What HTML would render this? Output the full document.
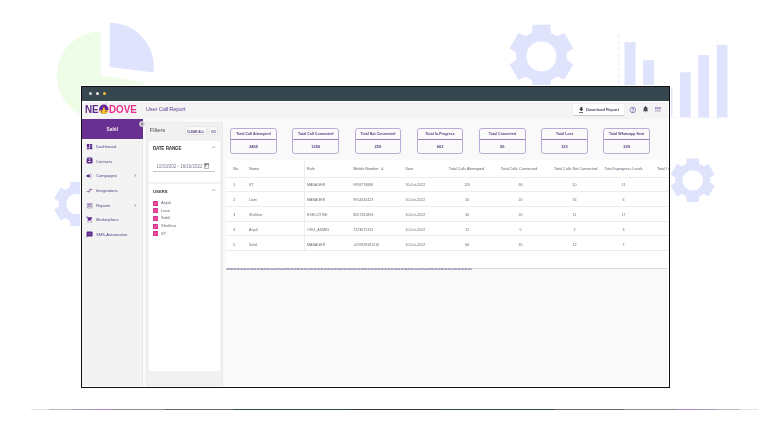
<!DOCTYPE html>
<html><head><meta charset="utf-8">
<style>
*{margin:0;padding:0;box-sizing:border-box}
html,body{width:758px;height:448px;overflow:hidden;background:#fff;font-family:"Liberation Sans",Arial,sans-serif}
.a{position:absolute}
.t{position:absolute;white-space:nowrap;line-height:1}
#bg{position:absolute;left:0;top:0}
#c{position:absolute;left:0;top:0;width:758px;height:448px;clip-path:inset(87px 89px 61px 82px);will-change:transform}
#win{position:absolute;left:81px;top:86px;width:589px;height:302px;border:1px solid #111;box-shadow:0 0 0 1px #fff}
.dot{width:3.2px;height:3.2px;border-radius:50%}
.logo{font-size:10.6px;font-weight:bold;transform:scaleX(0.93);transform-origin:0 0}
.mi{font-size:4.15px;color:#5c4585}
.cb{width:4.9px;height:4.9px;background:#e9308b;border-radius:0.5px;box-shadow:inset 0.4px 0.4px 0 #b04a9a}
.cb svg{display:block}
.ul{font-size:4.05px;color:#655e74}
.card{width:46.6px;height:25.5px;border:0.6px solid #bda9d6;border-radius:2.8px;background:#fafafa}
.cl{height:10.6px;border-bottom:0.7px solid #9a80bb;font-size:3.6px;font-weight:bold;color:#5a3f82;text-align:center;line-height:10.6px;white-space:nowrap}
.cv{font-size:4px;font-weight:bold;color:#5a3f82;text-align:center;line-height:13px}
.th{font-size:3.75px;color:#655e70}
.td{font-size:3.6px;color:#6c6777}
.btn{background:#fafafa;border:0.6px solid #e4e4e4;border-radius:1.5px;font-size:3.1px;font-weight:bold;color:#5b4680;text-align:center;line-height:7.4px;padding-top:1.3px}
</style></head><body>
<svg id="bg" width="758" height="448" viewBox="0 0 758 448">
  <!-- pie -->
  <path d="M100.7,75.4 L144.2,82.05 A44,44 0 1 1 100.7,31.4 Z" fill="#eefde7"/>
  <path d="M109.6,67 L109.6,22.7 A44.3,44.3 0 0 1 153.6,72.4 Z" fill="#e0e3fc"/>
  <!-- gears -->
  <g fill="#e0e3fc">
  <path d="M531.80,32.88 L532.60,24.80 L550.20,24.80 L551.00,32.88 A25.40,25.40 0 0 1 556.97,36.33 L564.37,32.98 L573.17,48.22 L566.57,52.96 A25.40,25.40 0 0 1 566.57,59.84 L573.17,64.58 L564.37,79.82 L556.97,76.47 A25.40,25.40 0 0 1 551.00,79.92 L550.20,88.00 L532.60,88.00 L531.80,79.92 A25.40,25.40 0 0 1 525.83,76.47 L518.43,79.82 L509.63,64.58 L516.23,59.84 A25.40,25.40 0 0 1 516.23,52.96 L509.63,48.22 L518.43,32.98 L525.83,36.33 A25.40,25.40 0 0 1 531.80,32.88 Z"/>
  <path d="M69.72,187.63 L70.27,182.00 L82.53,182.00 L83.08,187.63 A17.68,17.68 0 0 1 87.24,190.03 L92.39,187.69 L98.52,198.31 L93.92,201.60 A17.68,17.68 0 0 1 93.92,206.40 L98.52,209.69 L92.39,220.31 L87.24,217.97 A17.68,17.68 0 0 1 83.08,220.37 L82.53,226.00 L70.27,226.00 L69.72,220.37 A17.68,17.68 0 0 1 65.56,217.97 L60.41,220.31 L54.28,209.69 L58.88,206.40 A17.68,17.68 0 0 1 58.88,201.60 L54.28,198.31 L60.41,187.69 L65.56,190.03 A17.68,17.68 0 0 1 69.72,187.63 Z"/>
  <path d="M686.08,163.98 L686.63,158.40 L698.77,158.40 L699.32,163.98 A17.52,17.52 0 0 1 703.44,166.35 L708.54,164.04 L714.61,174.56 L710.06,177.82 A17.52,17.52 0 0 1 710.06,182.58 L714.61,185.84 L708.54,196.36 L703.44,194.05 A17.52,17.52 0 0 1 699.32,196.42 L698.77,202.00 L686.63,202.00 L686.08,196.42 A17.52,17.52 0 0 1 681.96,194.05 L676.86,196.36 L670.79,185.84 L675.34,182.58 A17.52,17.52 0 0 1 675.34,177.82 L670.79,174.56 L676.86,164.04 L681.96,166.35 A17.52,17.52 0 0 1 686.08,163.98 Z"/>
  </g>
  <g fill="#fff">
    <circle cx="541.4" cy="56.4" r="15"/>
    <circle cx="76.4" cy="204" r="10.3"/>
    <circle cx="692.7" cy="180.4" r="10.2"/>
  </g>
  <!-- bar chart -->
  <g fill="#e0e3fc">
    <rect x="624.5" y="42.1" width="11" height="75.4"/>
    <rect x="643" y="60.2" width="11" height="57.3"/>
    <rect x="661.4" y="88" width="11" height="29.5"/>
    <rect x="679.9" y="72.3" width="10.8" height="45.2"/>
    <rect x="698.3" y="55.1" width="10.8" height="62.4"/>
    <rect x="716.7" y="44.8" width="10.8" height="72.7"/>
  </g>
  <line x1="618.7" y1="33" x2="618.7" y2="117.5" stroke="#eef0fc" stroke-width="0.5"/>
  <g stroke="#dfe1f8" stroke-width="0.7">
    <line x1="617.3" y1="36.3" x2="620.1" y2="36.3"/>
    <line x1="617.3" y1="43" x2="620.1" y2="43"/>
    <line x1="617.3" y1="49.4" x2="620.1" y2="49.4"/>
    <line x1="617.3" y1="55.9" x2="620.1" y2="55.9"/>
    <line x1="617.3" y1="62.4" x2="620.1" y2="62.4"/>
    <line x1="617.3" y1="69.1" x2="620.1" y2="69.1"/>
    <line x1="617.3" y1="75.6" x2="620.1" y2="75.6"/>
    <line x1="617.3" y1="82.3" x2="620.1" y2="82.3"/>
  </g>
  <line x1="618" y1="117.6" x2="730" y2="117.6" stroke="#eef0fc" stroke-width="0.6"/>
  <!-- bottom line -->
  <defs>
    <linearGradient id="bl" x1="31" y1="0" x2="758" y2="0" gradientUnits="userSpaceOnUse">
      <stop offset="0" stop-color="#e6e2ec"/>
      <stop offset="0.024" stop-color="#e6e2ec"/>
      <stop offset="0.025" stop-color="#b8b8b8"/>
      <stop offset="0.056" stop-color="#b8b8b8"/>
      <stop offset="0.057" stop-color="#a99cb9"/>
      <stop offset="0.082" stop-color="#a99cb9"/>
      <stop offset="0.083" stop-color="#a68bc6"/>
      <stop offset="0.111" stop-color="#a68bc6"/>
      <stop offset="0.112" stop-color="#8a8f90"/>
      <stop offset="0.184" stop-color="#8a8f90"/>
      <stop offset="0.185" stop-color="#5f6767"/>
      <stop offset="0.278" stop-color="#5f6767"/>
      <stop offset="0.279" stop-color="#35474f"/>
      <stop offset="0.44" stop-color="#35474f"/>
      <stop offset="0.441" stop-color="#30383d"/>
      <stop offset="0.56" stop-color="#30383d"/>
      <stop offset="0.561" stop-color="#35474f"/>
      <stop offset="0.72" stop-color="#35474f"/>
      <stop offset="0.721" stop-color="#5f6767"/>
      <stop offset="0.815" stop-color="#5f6767"/>
      <stop offset="0.816" stop-color="#8a8f90"/>
      <stop offset="0.888" stop-color="#8a8f90"/>
      <stop offset="0.889" stop-color="#a68bc6"/>
      <stop offset="0.917" stop-color="#a68bc6"/>
      <stop offset="0.918" stop-color="#a99cb9"/>
      <stop offset="0.943" stop-color="#a99cb9"/>
      <stop offset="0.944" stop-color="#b8b8b8"/>
      <stop offset="0.975" stop-color="#b8b8b8"/>
      <stop offset="0.976" stop-color="#e6e2ec"/>
      <stop offset="1" stop-color="#e6e2ec"/>
    </linearGradient>
  </defs>
  <rect x="31" y="409" width="727" height="1" fill="url(#bl)"/>
</svg>
<div id="c">
<div class="a" style="left:82px;top:87px;width:587px;height:300px;background:#fff;"></div>
<div class="a" style="left:82px;top:87px;width:587px;height:13.7px;background:#37474f;"></div>
<div class="a dot" style="left:89.1px;top:92.2px;background:#d6d6d6"></div>
<div class="a dot" style="left:96.2px;top:92.2px;background:#f2f2f2"></div>
<div class="a dot" style="left:103.1px;top:92.2px;background:#f6bd2f"></div>
<div class="a" style="left:82px;top:100.7px;width:586px;height:17.9px;background:#f4f4f4;border-top:0.8px solid #fdfdfd"></div>
<div class="t logo" style="left:84.9px;top:103.9px;color:#5e2a8c">NE</div>
<div class="t logo" style="left:108.9px;top:103.9px;color:#ea2f8b">DOVE</div>
<svg class="a" style="left:98px;top:101px" width="12" height="14" viewBox="0 0 12 14">
<defs><clipPath id="dc"><circle cx="5.8" cy="8.3" r="4.7"/></clipPath></defs>
<path d="M6.8,3.2 Q7.6,1.2 9.4,1.7 Q8.6,2.6 9,4.1 Z" fill="#dcd2ea"/>
<circle cx="5.8" cy="8.3" r="4.7" fill="#6424a0"/>
<g clip-path="url(#dc)"><path d="M5,6.5 L6.7,6.5 L6.9,9.1 L10.6,9.3 L10.6,14 L1,14 L1,9.6 L4.8,9.2 Z" fill="#f8c61d"/>
<rect x="7.3" y="9.9" width="1.6" height="0.9" fill="#7a3fa8"/><rect x="3.2" y="9.9" width="0.8" height="1.6" fill="#7a3fa8"/></g>
</svg>
<div class="t " style="left:145.8px;top:107.1px;font-size:5.8px;letter-spacing:-0.2px;color:#66479a">User Call Report</div>
<div class="a" style="left:572.8px;top:104.4px;width:50.8px;height:10.8px;background:#fff;border-radius:1px;box-shadow:0 0.6px 1px rgba(0,0,0,.18)"></div>
<svg class="a" style="left:578.5px;top:107px" width="4.7" height="5.7" viewBox="5 3 14 17"><path d="M19 9h-4V3H9v6H5l7 7 7-7zM5 18v2h14v-2H5z" fill="#3b3b3b"/></svg>
<div class="t " style="left:585.9px;top:107.6px;font-size:4px;font-weight:bold;color:#54436f">Download Report</div>
<svg class="a" style="left:629.2px;top:105.6px" width="7.6" height="7.6" viewBox="0 0 24 24"><path d="M11 18h2v-2h-2v2zm1-16C6.48 2 2 6.48 2 12s4.48 10 10 10 10-4.48 10-10S17.52 2 12 2zm0 18c-4.41 0-8-3.590-8-8s3.59-8 8-8 8 3.59 8 8-3.59 8-8 8zm0-14c-2.21 0-4 1.79-4 4h2c0-1.1.9-2 2-2s2 .9 2 2c0 2-3 1.75-3 5h2c0-2.25 3-2.5 3-5 0-2.21-1.79-4-4-4z" fill="#7a5fa6"/></svg>
<svg class="a" style="left:642.8px;top:106.4px" width="5.2" height="6.34" viewBox="4 2.5 16 19.5"><path d="M12 22c1.1 0 2-.9 2-2h-4c0 1.1.89 2 2 2zm6-6v-5c0-3.07-1.64-5.64-4.5-6.32V4c0-.83-.67-1.5-1.5-1.5s-1.5.67-1.5 1.5v.68C7.63 5.36 6 7.92 6 11v5l-2 2v1h16v-1l-2-2z" fill="#4b5058"/></svg>
<svg class="a" style="left:654.8px;top:107.3px" width="5.8" height="4.8" viewBox="0 0 5.8 4.8"><g fill="#a58fc8"><rect x="0" y="0" width="1.7" height="2.1" rx="0.3"/><rect x="2.05" y="0" width="1.7" height="2.1" rx="0.3"/><rect x="4.1" y="0" width="1.7" height="2.1" rx="0.3"/></g><g fill="#c2b9cf"><rect x="0" y="2.6" width="1.7" height="2.1" rx="0.3"/><rect x="2.05" y="2.6" width="1.7" height="2.1" rx="0.3"/><rect x="4.1" y="2.6" width="1.7" height="2.1" rx="0.3"/></g></svg>
<div class="a" style="left:82px;top:118.6px;width:60.6px;height:267.2px;background:#f3f3f3;"></div>
<div class="a" style="left:82px;top:119px;width:60.6px;height:19.8px;background:#673091;"></div>
<div class="t " style="left:82px;top:128.2px;width:60.6px;text-align:center;font-size:4.8px;font-weight:bold;color:#f3eef7">Sahil</div>
<svg class="a" style="left:86.2px;top:142.9px" width="7.2" height="7.2" viewBox="0 0 24 24"><path d="M3 13h8V3H3v10zm0 8h8v-6H3v6zm10 0h8V11h-8v10zm0-18v6h8V3h-8z" fill="#5b2a8c"/></svg>
<div class="t mi" style="left:95.9px;top:144.57px;">Dashboard</div>
<svg class="a" style="left:86.2px;top:157.1px" width="7.2" height="7.2" viewBox="0 0 24 24"><path d="M20 0H4v2h16V0zM4 24h16v-2H4v2zM20 4H4c-1.1 0-2 .9-2 2v12c0 1.1.9 2 2 2h16c1.1 0 2-.9 2-2V6c0-1.1-.9-2-2-2zm-8 2.75c1.24 0 2.25 1.01 2.25 2.25s-1.01 2.25-2.25 2.25S9.75 10.24 9.75 9 10.76 6.75 12 6.75zM17 17H7v-1.5c0-1.67 3.33-2.5 5-2.5s5 .83 5 2.5V17z" fill="#5b2a8c"/></svg>
<div class="t mi" style="left:95.9px;top:159.87px;">Contacts</div>
<svg class="a" style="left:86.4px;top:173.20px" width="7" height="6" viewBox="0 0 7 6"><path d="M0.5,2.6 Q0.6,1.9 1.5,1.8 L3.5,1.4 L3.8,1.6 L3.8,4.3 L3.5,4.5 L1.6,4.1 Q0.5,4 0.5,3.3 Z" fill="#5b2a8c"/><path d="M4.9,1.5 Q5.9,2.95 4.9,4.4" fill="none" stroke="#5b2a8c" stroke-width="0.5"/><circle cx="4.7" cy="0.6" r="0.3" fill="#5b2a8c"/><circle cx="4.7" cy="5.3" r="0.3" fill="#5b2a8c"/></svg>
<div class="t mi" style="left:95.9px;top:173.77px;">Campaigns</div>
<svg class="a" style="left:133.8px;top:174.2px" width="2.4" height="3.2" viewBox="0 0 2.4 3.2"><path d="M0.5,0.3 L1.8,1.6 L0.5,2.9" fill="none" stroke="#5d4a78" stroke-width="0.55"/></svg>
<svg class="a" style="left:86.2px;top:187.1px" width="7.2" height="7.2" viewBox="0 0 24 24"><path d="M9.01 14H2v2h7.01v3L13 15l-3.99-4v3zm5.98-1v-3H22V8h-7.01V5L11 9l3.99 4z" fill="#5b2a8c"/></svg>
<div class="t mi" style="left:95.9px;top:188.67px;">Integrations</div>
<svg class="a" style="left:86.2px;top:201.6px" width="7.2" height="7.2" viewBox="0 0 24 24"><path d="M19 3H5c-1.1 0-2 .9-2 2v14c0 1.1.9 2 2 2h14c1.1 0 2-.9 2-2V5c0-1.1-.9-2-2-2zm0 16H5V5h14v14zM7 12h5v5H7zm0-5h10v3H7zm7 5h3v5h-3z" fill="#8a70ad"/></svg>
<div class="t mi" style="left:95.9px;top:203.87px;">Reports</div>
<svg class="a" style="left:133.8px;top:204.3px" width="2.4" height="3.2" viewBox="0 0 2.4 3.2"><path d="M0.5,0.3 L1.8,1.6 L0.5,2.9" fill="none" stroke="#5d4a78" stroke-width="0.55"/></svg>
<svg class="a" style="left:86.2px;top:216.4px" width="7.2" height="7.2" viewBox="0 0 24 24"><path d="M7 18c-1.1 0-1.99.9-1.99 2S5.9 22 7 22s2-.9 2-2-.9-2-2-2zM1 2v2h2l3.6 7.59-1.35 2.45c-.16.28-.25.61-.25.96 0 1.1.9 2 2 2h12v-2H7.42c-.14 0-.25-.11-.25-.25l.03-.12.9-1.63h7.45c.75 0 1.41-.41 1.75-1.03l3.58-6.49c.08-.14.12-.31.12-.48 0-.55-.45-1-1-1H5.21l-.94-2H1zm16 16c-1.1 0-1.99.9-1.99 2s.89 2 1.99 2 2-.9 2-2-.9-2-2-2z" fill="#5b2a8c"/></svg>
<div class="t mi" style="left:95.9px;top:217.87px;">Marketplace</div>
<svg class="a" style="left:86.2px;top:231.2px" width="7.2" height="7.2" viewBox="0 0 24 24"><path d="M20 2H4c-1.1 0-1.99.9-1.99 2L2 22l4-4h14c1.1 0 2-.9 2-2V4c0-1.1-.9-2-2-2zM9 11H7V9h2v2zm4 0h-2V9h2v2zm4 0h-2V9h2v2z" fill="#5b2a8c"/></svg>
<div class="t mi" style="left:95.9px;top:233.07px;">SMS-Automation</div>
<div class="a" style="left:142.6px;top:118.6px;width:525.4px;height:267.2px;background:#f9f9f9;"></div>
<div class="a" style="left:141.9px;top:138.8px;width:0.8px;height:247px;background:#e9e9e9;"></div>
<svg class="a" style="left:139.4px;top:121.2px" width="6.2" height="6.2" viewBox="0 0 6.2 6.2"><circle cx="3.1" cy="3.1" r="2.75" fill="#cbcbcb"/><circle cx="3.1" cy="3.1" r="2.75" fill="none" stroke="#e4e4e4" stroke-width="0.4"/><circle cx="3.1" cy="3.1" r="0.85" fill="#6b3a9e"/></svg>
<div class="a" style="left:146px;top:122.4px;width:77px;height:264px;background:#f1f1f1;border:0.7px solid #e9e9e9"></div>
<div class="t " style="left:149.8px;top:127.4px;font-size:6px;letter-spacing:-0.15px;color:#555">Filters</div>
<div class="a btn" style="left:184.5px;top:126.3px;width:22.2px;height:8.7px">CLEAR ALL</div>
<div class="a btn" style="left:208.8px;top:126.3px;width:9.6px;height:8.7px">GO</div>
<div class="a" style="left:148.8px;top:141.3px;width:71.2px;height:40.9px;background:#fff;"></div>
<div class="t " style="left:152.9px;top:146.6px;font-size:4.6px;letter-spacing:-0.22px;word-spacing:0.5px;font-weight:bold;color:#3a3a3a">DATE RANGE</div>
<svg class="a" style="left:212.4px;top:145.9px" width="3.4" height="2.2" viewBox="0 0 3.4 2.2"><path d="M0.3,1.9 L1.7,0.5 L3.1,1.9" fill="none" stroke="#555" stroke-width="0.55"/></svg>
<div class="t " style="left:156.5px;top:164.7px;font-size:4.45px;color:#7d778a">10/10/202 - 16/10/2022</div>
<svg class="a" style="left:204.1px;top:163.1px" width="5" height="5.6" viewBox="2 1 20 22"><path d="M20 3h-1V1h-2v2H7V1H5v2H4c-1.1 0-2 .9-2 2v16c0 1.1.9 2 2 2h16c1.1 0 2-.9 2-2V5c0-1.1-.9-2-2-2zm0 18H4V8h16v13z M6 10h5v5H6z" fill="#6a6a6a"/></svg>
<div class="a" style="left:152.9px;top:171.1px;width:62px;height:0.7px;background:#c6c6c6;"></div>
<div class="a" style="left:148.8px;top:183.7px;width:71.2px;height:187px;background:#fff;"></div>
<div class="t " style="left:153.1px;top:189.7px;font-size:4.2px;font-weight:bold;color:#3a3a3a">USERS</div>
<svg class="a" style="left:212.4px;top:189.4px" width="3.4" height="2.2" viewBox="0 0 3.4 2.2"><path d="M0.3,1.9 L1.7,0.5 L3.1,1.9" fill="none" stroke="#555" stroke-width="0.55"/></svg>
<div class="a cb" style="left:153.1px;top:200.65px"><svg width="4.9" height="4.9" viewBox="0 0 24 24"><path d="M9 16.2L4.8 12l-1.4 1.4L9 19 21 7l-1.4-1.4L9 16.2z" fill="#f6d0e4"/></svg></div>
<div class="t ul" style="left:161.1px;top:200.8px;">Anjali</div>
<div class="a cb" style="left:153.1px;top:208.35px"><svg width="4.9" height="4.9" viewBox="0 0 24 24"><path d="M9 16.2L4.8 12l-1.4 1.4L9 19 21 7l-1.4-1.4L9 16.2z" fill="#f6d0e4"/></svg></div>
<div class="t ul" style="left:161.1px;top:208.5px;">Liam</div>
<div class="a cb" style="left:153.1px;top:216.25px"><svg width="4.9" height="4.9" viewBox="0 0 24 24"><path d="M9 16.2L4.8 12l-1.4 1.4L9 19 21 7l-1.4-1.4L9 16.2z" fill="#f6d0e4"/></svg></div>
<div class="t ul" style="left:161.1px;top:216.2px;">Sahil</div>
<div class="a cb" style="left:153.1px;top:223.85px"><svg width="4.9" height="4.9" viewBox="0 0 24 24"><path d="M9 16.2L4.8 12l-1.4 1.4L9 19 21 7l-1.4-1.4L9 16.2z" fill="#f6d0e4"/></svg></div>
<div class="t ul" style="left:161.1px;top:223.9px;">Shekhar</div>
<div class="a cb" style="left:153.1px;top:231.15px"><svg width="4.9" height="4.9" viewBox="0 0 24 24"><path d="M9 16.2L4.8 12l-1.4 1.4L9 19 21 7l-1.4-1.4L9 16.2z" fill="#f6d0e4"/></svg></div>
<div class="t ul" style="left:161.1px;top:231.6px;">ST</div>
<div class="a card" style="left:230.2px;top:128.2px"><div class="cl">Total Call Attempted</div><div class="cv">3465</div></div>
<div class="a card" style="left:292.4px;top:128.2px"><div class="cl">Total Call Connected</div><div class="cv">1256</div></div>
<div class="a card" style="left:354.6px;top:128.2px"><div class="cl">Total Not Connected</div><div class="cv">259</div></div>
<div class="a card" style="left:416.8px;top:128.2px"><div class="cl">Total In-Progress</div><div class="cv">663</div></div>
<div class="a card" style="left:479.0px;top:128.2px"><div class="cl">Total Converted</div><div class="cv">56</div></div>
<div class="a card" style="left:541.2px;top:128.2px"><div class="cl">Total Lost</div><div class="cv">123</div></div>
<div class="a card" style="left:603.4px;top:128.2px"><div class="cl">Total Whatsapp Sent</div><div class="cv">329</div></div>
<div class="a" style="left:226px;top:159.8px;width:450px;height:108.4px;background:#fff;"></div>
<div class="a" style="left:304.4px;top:159.8px;width:0.6px;height:90.5px;background:#ededed;"></div>
<div class="a" style="left:226px;top:176.8px;width:450px;height:0.6px;background:#ececec;"></div>
<div class="a" style="left:226px;top:191.3px;width:450px;height:0.6px;background:#ececec;"></div>
<div class="a" style="left:226px;top:206.0px;width:450px;height:0.6px;background:#ececec;"></div>
<div class="a" style="left:226px;top:220.7px;width:450px;height:0.6px;background:#ececec;"></div>
<div class="a" style="left:226px;top:235.4px;width:450px;height:0.6px;background:#ececec;"></div>
<div class="a" style="left:226px;top:250.0px;width:450px;height:0.6px;background:#ececec;"></div>
<div class="t th" style="left:233.2px;top:167.5px;">No.</div>
<div class="t th" style="left:249px;top:167.5px;">Name</div>
<div class="t th" style="left:307.1px;top:167.5px;">Role</div>
<div class="t th" style="left:353.2px;top:167.5px;">Mobile Number</div>
<div class="t th" style="left:405.4px;top:167.5px;">Date</div>
<div class="t th" style="left:446.4px;top:167.5px;width:40px;text-align:center">Total Calls Attempted</div>
<div class="t th" style="left:498.9px;top:167.5px;width:40px;text-align:center">Total Calls Connected</div>
<div class="t th" style="left:554.1px;top:167.5px;width:40px;text-align:center">Total Calls Not Connected</div>
<div class="t th" style="left:603.6px;top:167.5px;width:40px;text-align:center">Total Inprogress Leads</div>
<div class="t th" style="left:657px;top:167.5px;">Total In</div>
<svg class="a" style="left:381.1px;top:167.2px" width="2.6" height="3.4" viewBox="0 0 2.6 3.4"><path d="M1.3,0.2 L1.3,3 M0.3,2 L1.3,3 L2.3,2" fill="none" stroke="#555" stroke-width="0.5"/></svg>
<div class="t td" style="left:233.2px;top:183.9px;">1</div>
<div class="t td" style="left:249px;top:183.9px;">ST</div>
<div class="t td" style="left:307.1px;top:183.9px;">MANAGER</div>
<div class="t td" style="left:353.2px;top:183.9px;">9958776686</div>
<div class="t td" style="left:405.4px;top:183.9px;">10-Oct-2022</div>
<div class="t td" style="left:447.3px;top:183.9px;width:40px;text-align:center">120</div>
<div class="t td" style="left:500.4px;top:183.9px;width:40px;text-align:center">66</div>
<div class="t td" style="left:554.4px;top:183.9px;width:40px;text-align:center">20</div>
<div class="t td" style="left:603.6px;top:183.9px;width:40px;text-align:center">11</div>
<div class="t td" style="left:233.2px;top:198.7px;">2</div>
<div class="t td" style="left:249px;top:198.7px;">Liam</div>
<div class="t td" style="left:307.1px;top:198.7px;">MANAGER</div>
<div class="t td" style="left:353.2px;top:198.7px;">9914032423</div>
<div class="t td" style="left:405.4px;top:198.7px;">10-Oct-2022</div>
<div class="t td" style="left:447.3px;top:198.7px;width:40px;text-align:center">56</div>
<div class="t td" style="left:500.4px;top:198.7px;width:40px;text-align:center">20</div>
<div class="t td" style="left:554.4px;top:198.7px;width:40px;text-align:center">16</div>
<div class="t td" style="left:603.6px;top:198.7px;width:40px;text-align:center">6</div>
<div class="t td" style="left:233.2px;top:213.5px;">3</div>
<div class="t td" style="left:249px;top:213.5px;">Shekhar</div>
<div class="t td" style="left:307.1px;top:213.5px;">EXECUTIVE</div>
<div class="t td" style="left:353.2px;top:213.5px;">8057261894</div>
<div class="t td" style="left:405.4px;top:213.5px;">10-Oct-2022</div>
<div class="t td" style="left:447.3px;top:213.5px;width:40px;text-align:center">30</div>
<div class="t td" style="left:500.4px;top:213.5px;width:40px;text-align:center">20</div>
<div class="t td" style="left:554.4px;top:213.5px;width:40px;text-align:center">11</div>
<div class="t td" style="left:603.6px;top:213.5px;width:40px;text-align:center">17</div>
<div class="t td" style="left:233.2px;top:228.6px;">4</div>
<div class="t td" style="left:249px;top:228.6px;">Anjali</div>
<div class="t td" style="left:307.1px;top:228.6px;">ORG_ADMIN</div>
<div class="t td" style="left:353.2px;top:228.6px;">7223675315</div>
<div class="t td" style="left:405.4px;top:228.6px;">10-Oct-2022</div>
<div class="t td" style="left:447.3px;top:228.6px;width:40px;text-align:center">12</div>
<div class="t td" style="left:500.4px;top:228.6px;width:40px;text-align:center">5</div>
<div class="t td" style="left:554.4px;top:228.6px;width:40px;text-align:center">2</div>
<div class="t td" style="left:603.6px;top:228.6px;width:40px;text-align:center">3</div>
<div class="t td" style="left:233.2px;top:243.7px;">5</div>
<div class="t td" style="left:249px;top:243.7px;">Sahil</div>
<div class="t td" style="left:307.1px;top:243.7px;">MANAGER</div>
<div class="t td" style="left:353.2px;top:243.7px;">+919928181216</div>
<div class="t td" style="left:405.4px;top:243.7px;">10-Oct-2022</div>
<div class="t td" style="left:447.3px;top:243.7px;width:40px;text-align:center">66</div>
<div class="t td" style="left:500.4px;top:243.7px;width:40px;text-align:center">35</div>
<div class="t td" style="left:554.4px;top:243.7px;width:40px;text-align:center">12</div>
<div class="t td" style="left:603.6px;top:243.7px;width:40px;text-align:center">7</div>
<div class="a" style="left:226px;top:267.9px;width:441px;height:0.9px;background:#d9d9d9;"></div>
<div class="a" style="left:666.8px;top:118.6px;width:1.2px;height:267.2px;background:#f8f8f8;"></div>
<div class="a" style="left:225.8px;top:267.9px;width:246.3px;height:2px;background:#b5aec2;background:repeating-linear-gradient(-60deg,#aea3c4 0 1.1px,#d3d2cd 1.1px 1.8px,#aea3c4 1.8px 2.9px)"></div>
</div>
<div id="win"></div>
</body></html>
